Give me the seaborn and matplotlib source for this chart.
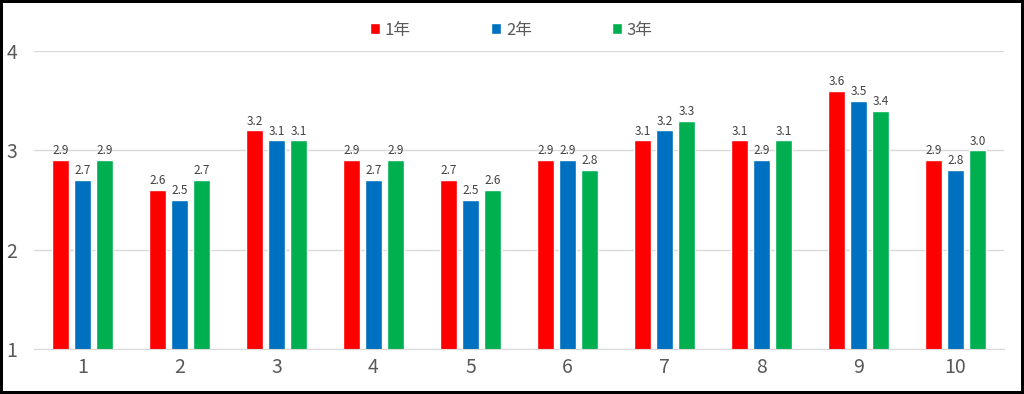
import pandas as pd
import matplotlib.pyplot as plt
import seaborn as sns

categories = ["1", "2", "3", "4", "5", "6", "7", "8", "9", "10"]
series_names = ["1年", "2年", "3年"]
year1 = [2.9, 2.6, 3.2, 2.9, 2.7, 2.9, 3.1, 3.1, 3.6, 2.9]
year2 = [2.7, 2.5, 3.1, 2.7, 2.5, 2.9, 3.2, 2.9, 3.5, 2.8]
year3 = [2.9, 2.7, 3.1, 2.9, 2.6, 2.8, 3.3, 3.1, 3.4, 3.0]
colors = ["#FF0000", "#0070C0", "#00B050"]
y_ticks = [1, 2, 3, 4]

df = pd.DataFrame({
    "item": categories * 3,
    "year": [s for s in series_names for _ in categories],
    "score": year1 + year2 + year3,
})

sns.set_style("white")
plt.rcParams["font.family"] = ["Noto Sans CJK JP", "DejaVu Sans"]

fig = plt.figure(figsize=(10.24, 3.94), dpi=100)
ax = fig.add_axes([34 / 1024, 45 / 394, 970 / 1024, 298 / 394])

sns.barplot(data=df, x="item", y="score", hue="year", order=categories,
            hue_order=series_names, palette=colors, width=0.68, gap=0.23,
            saturation=1, ax=ax, legend=True)

for cont in ax.containers:
    ax.bar_label(cont, fmt="%.1f", padding=2, fontsize=8.5, color="#404040")

ax.set_ylim(1, 4)
ax.set_yticks(y_ticks)
ax.set_xlim(-0.5, 9.5)
ax.yaxis.grid(True, color="#D9D9D9", linewidth=1)
ax.set_axisbelow(True)
for s in ["top", "right", "left"]:
    ax.spines[s].set_visible(False)
ax.spines["bottom"].set_color("#D9D9D9")
ax.set_xlabel("")
ax.set_ylabel("")
ax.tick_params(axis="both", length=0, labelsize=14, labelcolor="#595959")
ax.tick_params(axis="y", pad=12)
ax.tick_params(axis="x", pad=6)

handles, labels = ax.get_legend_handles_labels()
ax.legend(handles, labels, loc="center", bbox_to_anchor=(0.492, 1.07), ncol=3,
          frameon=False, fontsize=12, labelcolor="#595959", handlelength=0.6,
          handleheight=0.6, handletextpad=0.3, columnspacing=4.8)

fig.patch.set_edgecolor("black")
fig.patch.set_linewidth(3)

plt.savefig("out.png", dpi=100, edgecolor=fig.get_edgecolor())
